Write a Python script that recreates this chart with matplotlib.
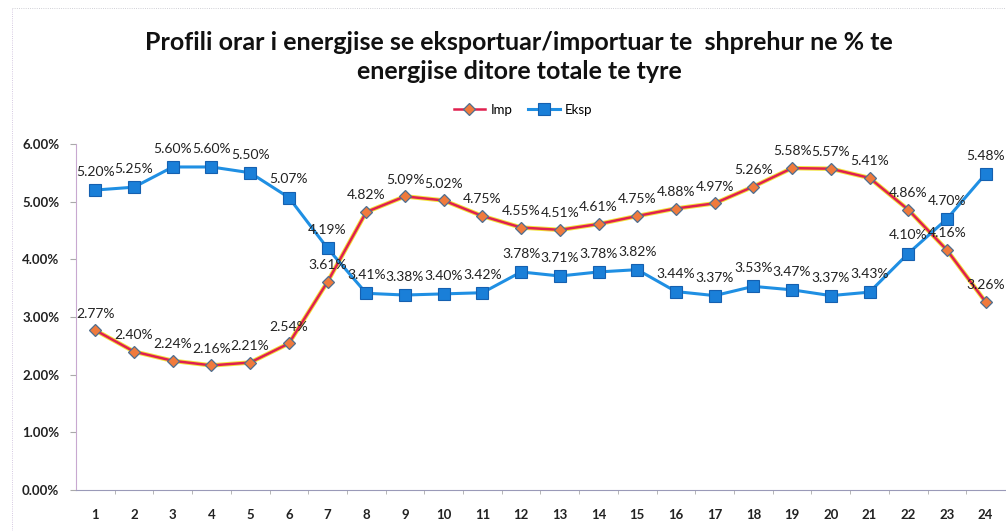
import matplotlib.pyplot as plt
import matplotlib.ticker as mticker
import numpy as np

# Hourly share of daily energy (%)
hours = list(range(1, 25))
imp = [2.77, 2.40, 2.24, 2.16, 2.21, 2.54, 3.61, 4.82, 5.09, 5.02, 4.75, 4.55,
       4.51, 4.61, 4.75, 4.88, 4.97, 5.26, 5.58, 5.57, 5.41, 4.86, 4.16, 3.26]
eksp = [5.20, 5.25, 5.60, 5.60, 5.50, 5.07, 4.19, 3.41, 3.38, 3.40, 3.42, 3.78,
        3.71, 3.78, 3.82, 3.44, 3.37, 3.53, 3.47, 3.37, 3.43, 4.10, 4.70, 5.48]
y_ticks = [0, 1, 2, 3, 4, 5, 6]

title = ('Profili orar i energjise se eksportuar/importuar te  shprehur ne % te\n'
         'energjise ditore totale te tyre')

plt.rcParams['font.family'] = ['Lato', 'DejaVu Sans']

fig = plt.figure(figsize=(10.06, 5.31), dpi=100)
ax = fig.add_axes([0.0755, 0.0772, 0.9235, 0.6518])

ax.plot(hours, imp, color='#f2e23a', lw=3.2, zorder=2)
ax.plot(hours, imp, color='#e0204e', lw=1.8, marker='D', markersize=6,
        markerfacecolor='#f07a3c', markeredgecolor='#4f6f8f', markeredgewidth=0.9,
        label='Imp', zorder=3)
ax.plot(hours, eksp, color='#1f8fe3', lw=2.2, marker='s', markersize=8,
        markerfacecolor='#1a7fd8', markeredgecolor='#1560b0', markeredgewidth=0.8,
        label='Eksp', zorder=3)

for x, v in zip(hours, imp):
    ax.annotate(f'{v:.2f}%', (x, v), textcoords='offset points', xytext=(0, 12),
                ha='center', va='center', fontsize=10, color='#222222')
for x, v in zip(hours, eksp):
    ax.annotate(f'{v:.2f}%', (x, v), textcoords='offset points', xytext=(0, 13),
                ha='center', va='center', fontsize=10, color='#222222')

ax.set_xlim(0.5, 24.5)
ax.set_ylim(0, 6)
ax.set_yticks(y_ticks)
ax.yaxis.set_major_formatter(mticker.FuncFormatter(lambda v, p: f'{v:.2f}%'))
ax.set_xticks(hours)
ax.set_xticks(np.arange(1.5, 24.5, 1), minor=True)
ax.tick_params(axis='x', which='major', length=0, pad=14, labelsize=9.5)
ax.tick_params(axis='x', which='minor', length=3, color='#aaaaaa')
ax.tick_params(axis='y', length=4, color='#aaaaaa', labelsize=9.5, pad=8)
for lab in ax.get_xticklabels() + ax.get_yticklabels():
    lab.set_fontweight('bold')
    lab.set_color('#222222')

for s in ['top', 'right']:
    ax.spines[s].set_visible(False)
ax.spines['left'].set_color('#c8a8d0')
ax.spines['bottom'].set_color('#9a9ab8')
ax.spines['left'].set_linewidth(0.8)
ax.spines['bottom'].set_linewidth(0.8)

fig.text(0.516, 0.892, title, ha='center', va='center', fontsize=18,
         fontweight='bold', linespacing=1.3, color='#111111')

fig.legend(loc='center', bbox_to_anchor=(0.52, 0.793), ncol=2, frameon=False,
           fontsize=9.5, handlelength=2.4, columnspacing=1.2, handletextpad=0.4)

# faint scanned frame lines
fig.add_artist(plt.Line2D([0.012, 1.0], [0.985, 0.985], color='#c0c0c8', lw=0.6, ls=':'))
fig.add_artist(plt.Line2D([0.012, 0.012], [0.0, 0.985], color='#c8b8d8', lw=0.6, ls=':'))

fig.savefig('out.png', dpi=100)
